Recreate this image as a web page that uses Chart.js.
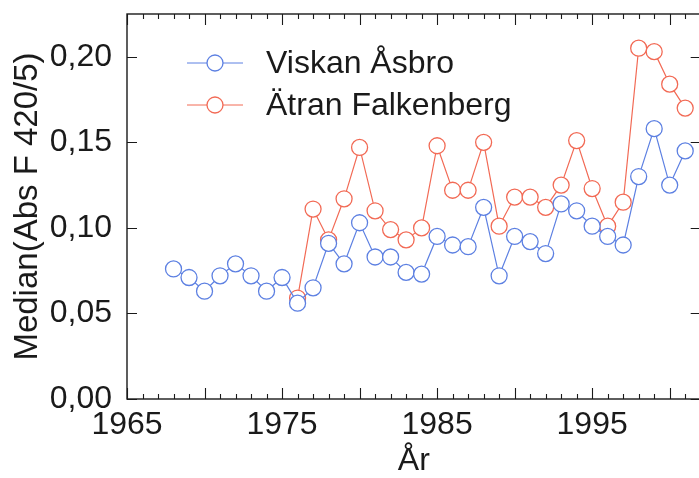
<!DOCTYPE html>
<html>
<head>
<meta charset="utf-8">
<script src="https://cdn.jsdelivr.net/npm/chart.js@4/dist/chart.umd.min.js"></script>
<style>
  html, body { margin: 0; padding: 0; background: #fff; overflow: hidden; }
</style>
</head>
<body>
<canvas id="c" width="710" height="478"></canvas>
<script>
// values
const viskanYears = [1968,1969,1970,1971,1972,1973,1974,1975,1976,1977,1978,1979,1980,1981,1982,1983,1984,
  1985,1986,1987,1988,1989,1990,1991,1992,1993,1994,1995,1996,1997,1998,1999,2000,2001];
const viskanValues = [0.076,0.071,0.063,0.072,0.079,0.072,0.063,0.071,0.056,0.065,0.091,0.079,0.103,0.083,0.083,0.074,0.073,
  0.095,0.090,0.089,0.112,0.072,0.095,0.092,0.085,0.114,0.110,0.101,0.095,0.090,0.130,0.158,0.125,0.145];
const atranYears = [1976,1977,1978,1979,1980,1981,1982,1983,1984,1985,1986,1987,1988,1989,1990,1991,1992,
  1993,1994,1995,1996,1997,1998,1999,2000,2001];
const atranValues = [0.059,0.111,0.093,0.117,0.147,0.110,0.099,0.093,0.100,0.148,0.122,0.122,0.150,0.101,0.118,0.118,0.112,
  0.125,0.151,0.123,0.101,0.115,0.205,0.203,0.184,0.170];
const seriesNames = ["Viskan Åsbro", "Ätran Falkenberg"];
const xTickLabels = [1965, 1975, 1985, 1995];
const yTickValues = [0, 0.05, 0.10, 0.15, 0.20];

const BLUE = "#5d80e2";
const RED = "#f26a55";
const INK = "#1a1a1a";
const FONT = "'Liberation Sans', Arial, Helvetica, sans-serif";

const toPoints = (xs, ys) => xs.map((x, i) => ({ x, y: ys[i] }));

/** frame with inward ticks, drawn from the scales */
const framePlugin = {
  id: "frame",
  afterDraw(chart) {
    const { ctx, chartArea: a, scales: { x, y } } = chart;
    ctx.save();
    ctx.strokeStyle = INK;
    ctx.lineWidth = 1.4;
    ctx.strokeRect(a.left, a.top, a.right - a.left, a.bottom - a.top);
    ctx.lineWidth = 1.1;
    ctx.beginPath();
    for (let yr = Math.ceil(x.min); yr <= x.max; yr++) {
      const px = Math.round(x.getPixelForValue(yr)) + 0.5;
      const len = yr % 5 === 0 ? 11 : 5;
      ctx.moveTo(px, a.bottom); ctx.lineTo(px, a.bottom - len);
      ctx.moveTo(px, a.top); ctx.lineTo(px, a.top + len);
    }
    yTickValues.forEach(v => {
      const py = Math.round(y.getPixelForValue(v)) + 0.5;
      ctx.moveTo(a.left, py); ctx.lineTo(a.left + 10, py);
      ctx.moveTo(a.right, py); ctx.lineTo(a.right - 10, py);
    });
    ctx.stroke();
    ctx.restore();
  }
};

/** legend inside the plot: line + hollow circle + name */
const legendPlugin = {
  id: "innerLegend",
  afterDatasetsDraw(chart) {
    const ctx = chart.ctx;
    ctx.save();
    chart.data.datasets.forEach((ds, i) => {
      const cy = 63 + i * 42;
      ctx.strokeStyle = ds.borderColor;
      ctx.lineWidth = 1;
      ctx.beginPath();
      ctx.moveTo(187, cy); ctx.lineTo(243, cy);
      ctx.stroke();
      ctx.fillStyle = "#fff";
      ctx.lineWidth = 1.3;
      ctx.beginPath();
      ctx.arc(215, cy, 8, 0, Math.PI * 2);
      ctx.fill(); ctx.stroke();
      ctx.fillStyle = INK;
      ctx.font = "32px " + FONT;
      ctx.textBaseline = "middle";
      ctx.fillText(ds.label, 266, cy + 1);
    });
    ctx.restore();
  }
};

function makeDataset(label, xs, ys, color) {
  return {
    label,
    data: toPoints(xs, ys),
    borderColor: color,
    borderWidth: 1.2,
    pointBorderColor: color,
    pointBackgroundColor: "#fff",
    pointBorderWidth: 1.3,
    pointRadius: 8,
    pointHoverRadius: 8,
    tension: 0,
    fill: false
  };
}

function noScalePadding(s) {
  s.paddingTop = 0; s.paddingBottom = 0; s.paddingLeft = 0; s.paddingRight = 0;
}

new Chart(document.getElementById("c"), {
  type: "line",
  data: {
    datasets: [
      makeDataset(seriesNames[0], viskanYears, viskanValues, BLUE),
      makeDataset(seriesNames[1], atranYears, atranValues, RED)
    ]
  },
  options: {
    responsive: false,
    animation: false,
    layout: { padding: { top: 14, right: 6, left: 0, bottom: 0 } },
    plugins: { legend: { display: false }, tooltip: { enabled: false } },
    scales: {
      x: {
        type: "linear",
        min: 1965,
        max: 2002,
        grid: { display: false, drawTicks: false },
        border: { display: false },
        afterBuildTicks: s => { s.ticks = xTickLabels.map(v => ({ value: v })); },
        afterFit: s => { s.height = 79; noScalePadding(s); },
        ticks: {
          color: INK,
          padding: 7,
          maxRotation: 0,
          autoSkip: false,
          font: { family: FONT, size: 32 },
          callback: v => String(v)
        },
        title: {
          display: true,
          text: "År",
          color: INK,
          padding: { top: 0, bottom: 1 },
          font: { family: FONT, size: 32, lineHeight: 1 }
        }
      },
      y: {
        min: 0,
        max: 0.225,
        grid: { display: false, drawTicks: false },
        border: { display: false },
        afterBuildTicks: s => { s.ticks = yTickValues.map(v => ({ value: v })); },
        afterFit: s => { s.width = 127; noScalePadding(s); },
        ticks: {
          color: INK,
          padding: 15,
          font: { family: FONT, size: 32 },
          callback: v => v.toFixed(2).replace(".", ",")
        },
        title: {
          display: true,
          text: "Median(Abs F 420/5)",
          color: INK,
          padding: { top: 8, bottom: 0 },
          font: { family: FONT, size: 33, lineHeight: 1.2 }
        }
      }
    }
  },
  plugins: [framePlugin, legendPlugin]
});
</script>
</body>
</html>
